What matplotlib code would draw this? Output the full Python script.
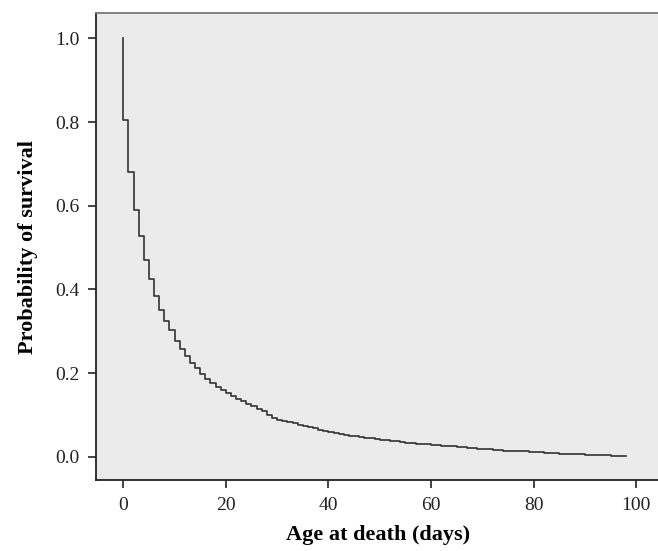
import matplotlib.pyplot as plt

# Kaplan-Meier estimate (day, survival after deaths that day)
days = list(range(0, 99))
survival = [
    0.805, 0.680, 0.590, 0.527, 0.470, 0.425, 0.385, 0.352, 0.325, 0.302,
    0.278, 0.258, 0.240, 0.225, 0.212, 0.199, 0.187, 0.177, 0.168, 0.160,
    0.152, 0.145, 0.139, 0.133, 0.127, 0.121, 0.115, 0.109, 0.100, 0.093,
    0.089, 0.086, 0.083, 0.080, 0.077, 0.074, 0.071, 0.068, 0.065, 0.062,
    0.059, 0.057, 0.055, 0.053, 0.051, 0.049, 0.047, 0.045, 0.044, 0.042,
    0.041, 0.040, 0.038, 0.037, 0.036, 0.034, 0.033, 0.032, 0.031, 0.030,
    0.029, 0.028, 0.027, 0.026, 0.025, 0.024, 0.023, 0.022, 0.021, 0.020,
    0.019, 0.018, 0.017, 0.016, 0.015, 0.015, 0.014, 0.013, 0.013, 0.012,
    0.012, 0.011, 0.010, 0.010, 0.009, 0.008, 0.008, 0.007, 0.006, 0.006,
    0.005, 0.005, 0.004, 0.004, 0.004, 0.003, 0.003, 0.003, 0.002,
]
x_ticks = [0, 20, 40, 60, 80, 100]
y_ticks = [0.0, 0.2, 0.4, 0.6, 0.8, 1.0]

plt.rcParams["font.family"] = ["Liberation Serif", "DejaVu Serif"]

fig = plt.figure(figsize=(6.58, 5.51), dpi=100)
ax = fig.add_axes([0.146, 0.129, 0.856, 0.847])
ax.set_facecolor("#ebebeb")

# start at 1.0 then step down at each death time
ax.step([0] + days, [1.0] + survival, where="post", color="#333333", lw=1.2)

ax.set_xlim(-5.3, 104.5)
ax.set_ylim(-0.055, 1.06)
ax.set_xticks(x_ticks)
ax.set_yticks(y_ticks)
ax.set_yticklabels([f"{v:.1f}" for v in y_ticks])
ax.tick_params(direction="out", length=6, width=1.2, labelsize=14, pad=6,
               color="#222222", labelcolor="#222222")

ax.spines["right"].set_visible(False)
ax.spines["top"].set_color("#777777")
for side in ("left", "bottom"):
    ax.spines[side].set_color("#222222")
    ax.spines[side].set_linewidth(1.3)
ax.spines["top"].set_linewidth(1.3)

ax.set_xlabel("Age at death (days)", fontsize=16, fontweight="bold", labelpad=8)
ax.set_ylabel("Probability of survival", fontsize=16, fontweight="bold", labelpad=12)

fig.savefig("out.png", dpi=100)
